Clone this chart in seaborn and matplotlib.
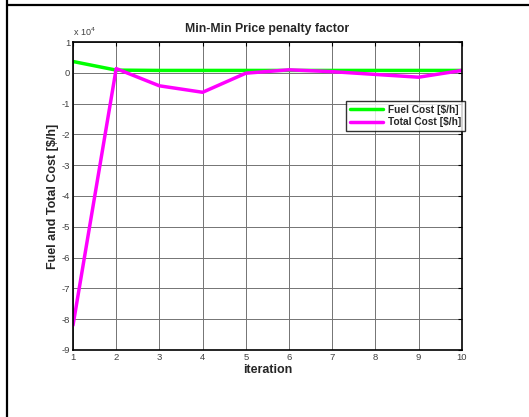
import numpy as np
import pandas as pd
import matplotlib
matplotlib.use("Agg")
import matplotlib.pyplot as plt
from matplotlib.lines import Line2D
from matplotlib.ticker import FuncFormatter
import seaborn as sns

# ================= Data ================= #
iteration = [1, 2, 3, 4, 5, 6, 7, 8, 9, 10]
fuel_cost = [3700, 900, 800, 800, 800, 800, 800, 800, 800, 800]
total_cost = [-82000, 1400, -4200, -6300, -100, 1000, 400, -500, -1400, 800]
series_names = ["Fuel Cost [$/h]", "Total Cost [$/h]"]

df = pd.DataFrame({
    "iteration": iteration * 2,
    "cost": fuel_cost + total_cost,
    "series": [series_names[0]] * len(iteration) + [series_names[1]] * len(iteration),
})

# ================= Style ================= #
sns.set_style("white")
plt.rcParams["font.family"] = ["Liberation Sans", "DejaVu Sans"]

fig = plt.figure(figsize=(5.29, 4.17), dpi=100)
ax = fig.add_axes([0.138, 0.161, 0.735, 0.738])

sns.lineplot(data=df, x="iteration", y="cost", hue="series",
             palette=["#00ff00", "#ff00ff"], linewidth=2.5, ax=ax)

ax.set_xlim(1, 10)
ax.set_ylim(-90000, 10000)
ax.set_xticks(range(1, 11))
ax.set_yticks(np.arange(-90000, 10001, 10000))
ax.yaxis.set_major_formatter(FuncFormatter(lambda v, p: "%d" % round(v / 1e4)))
ax.grid(True, color="0.45", linewidth=0.7)
ax.tick_params(direction="in", length=3, width=0.8, labelsize=6.8, colors="black",
               labelcolor="0.25", top=True, right=True, pad=2)
for s in ax.spines.values():
    s.set_linewidth(1.2)
    s.set_color("black")

ax.set_title("Min-Min Price penalty factor", fontsize=8.8, fontweight="bold", pad=7)
ax.set_xlabel("iteration", fontsize=9, fontweight="bold", labelpad=2)
ax.set_ylabel("Fuel and Total Cost [$/h]", fontsize=9, fontweight="bold", labelpad=2)
ax.text(0.0, 1.012, "x 10$^4$", transform=ax.transAxes, fontsize=6.5, color="0.25",
        ha="left", va="bottom")

leg = ax.legend(loc="upper right", bbox_to_anchor=(1.008, 0.808), fontsize=7.3,
                frameon=True, fancybox=False, borderpad=0.35, handlelength=3.3,
                handletextpad=0.5, labelspacing=0.25, borderaxespad=0)
leg.get_frame().set_edgecolor("black")
leg.get_frame().set_linewidth(1.0)
for t in leg.get_texts():
    t.set_fontweight("bold")
for h in leg.get_lines():
    h.set_linewidth(2.5)

# frame lines around the figure (cropped box)
fig.add_artist(Line2D([7 / 529, 7 / 529], [0, 1], color="black", linewidth=1.6,
                      transform=fig.transFigure))
fig.add_artist(Line2D([7 / 529, 1], [1 - 5 / 417, 1 - 5 / 417], color="black",
                      linewidth=1.6, transform=fig.transFigure))

fig.savefig("out.png", dpi=100)
